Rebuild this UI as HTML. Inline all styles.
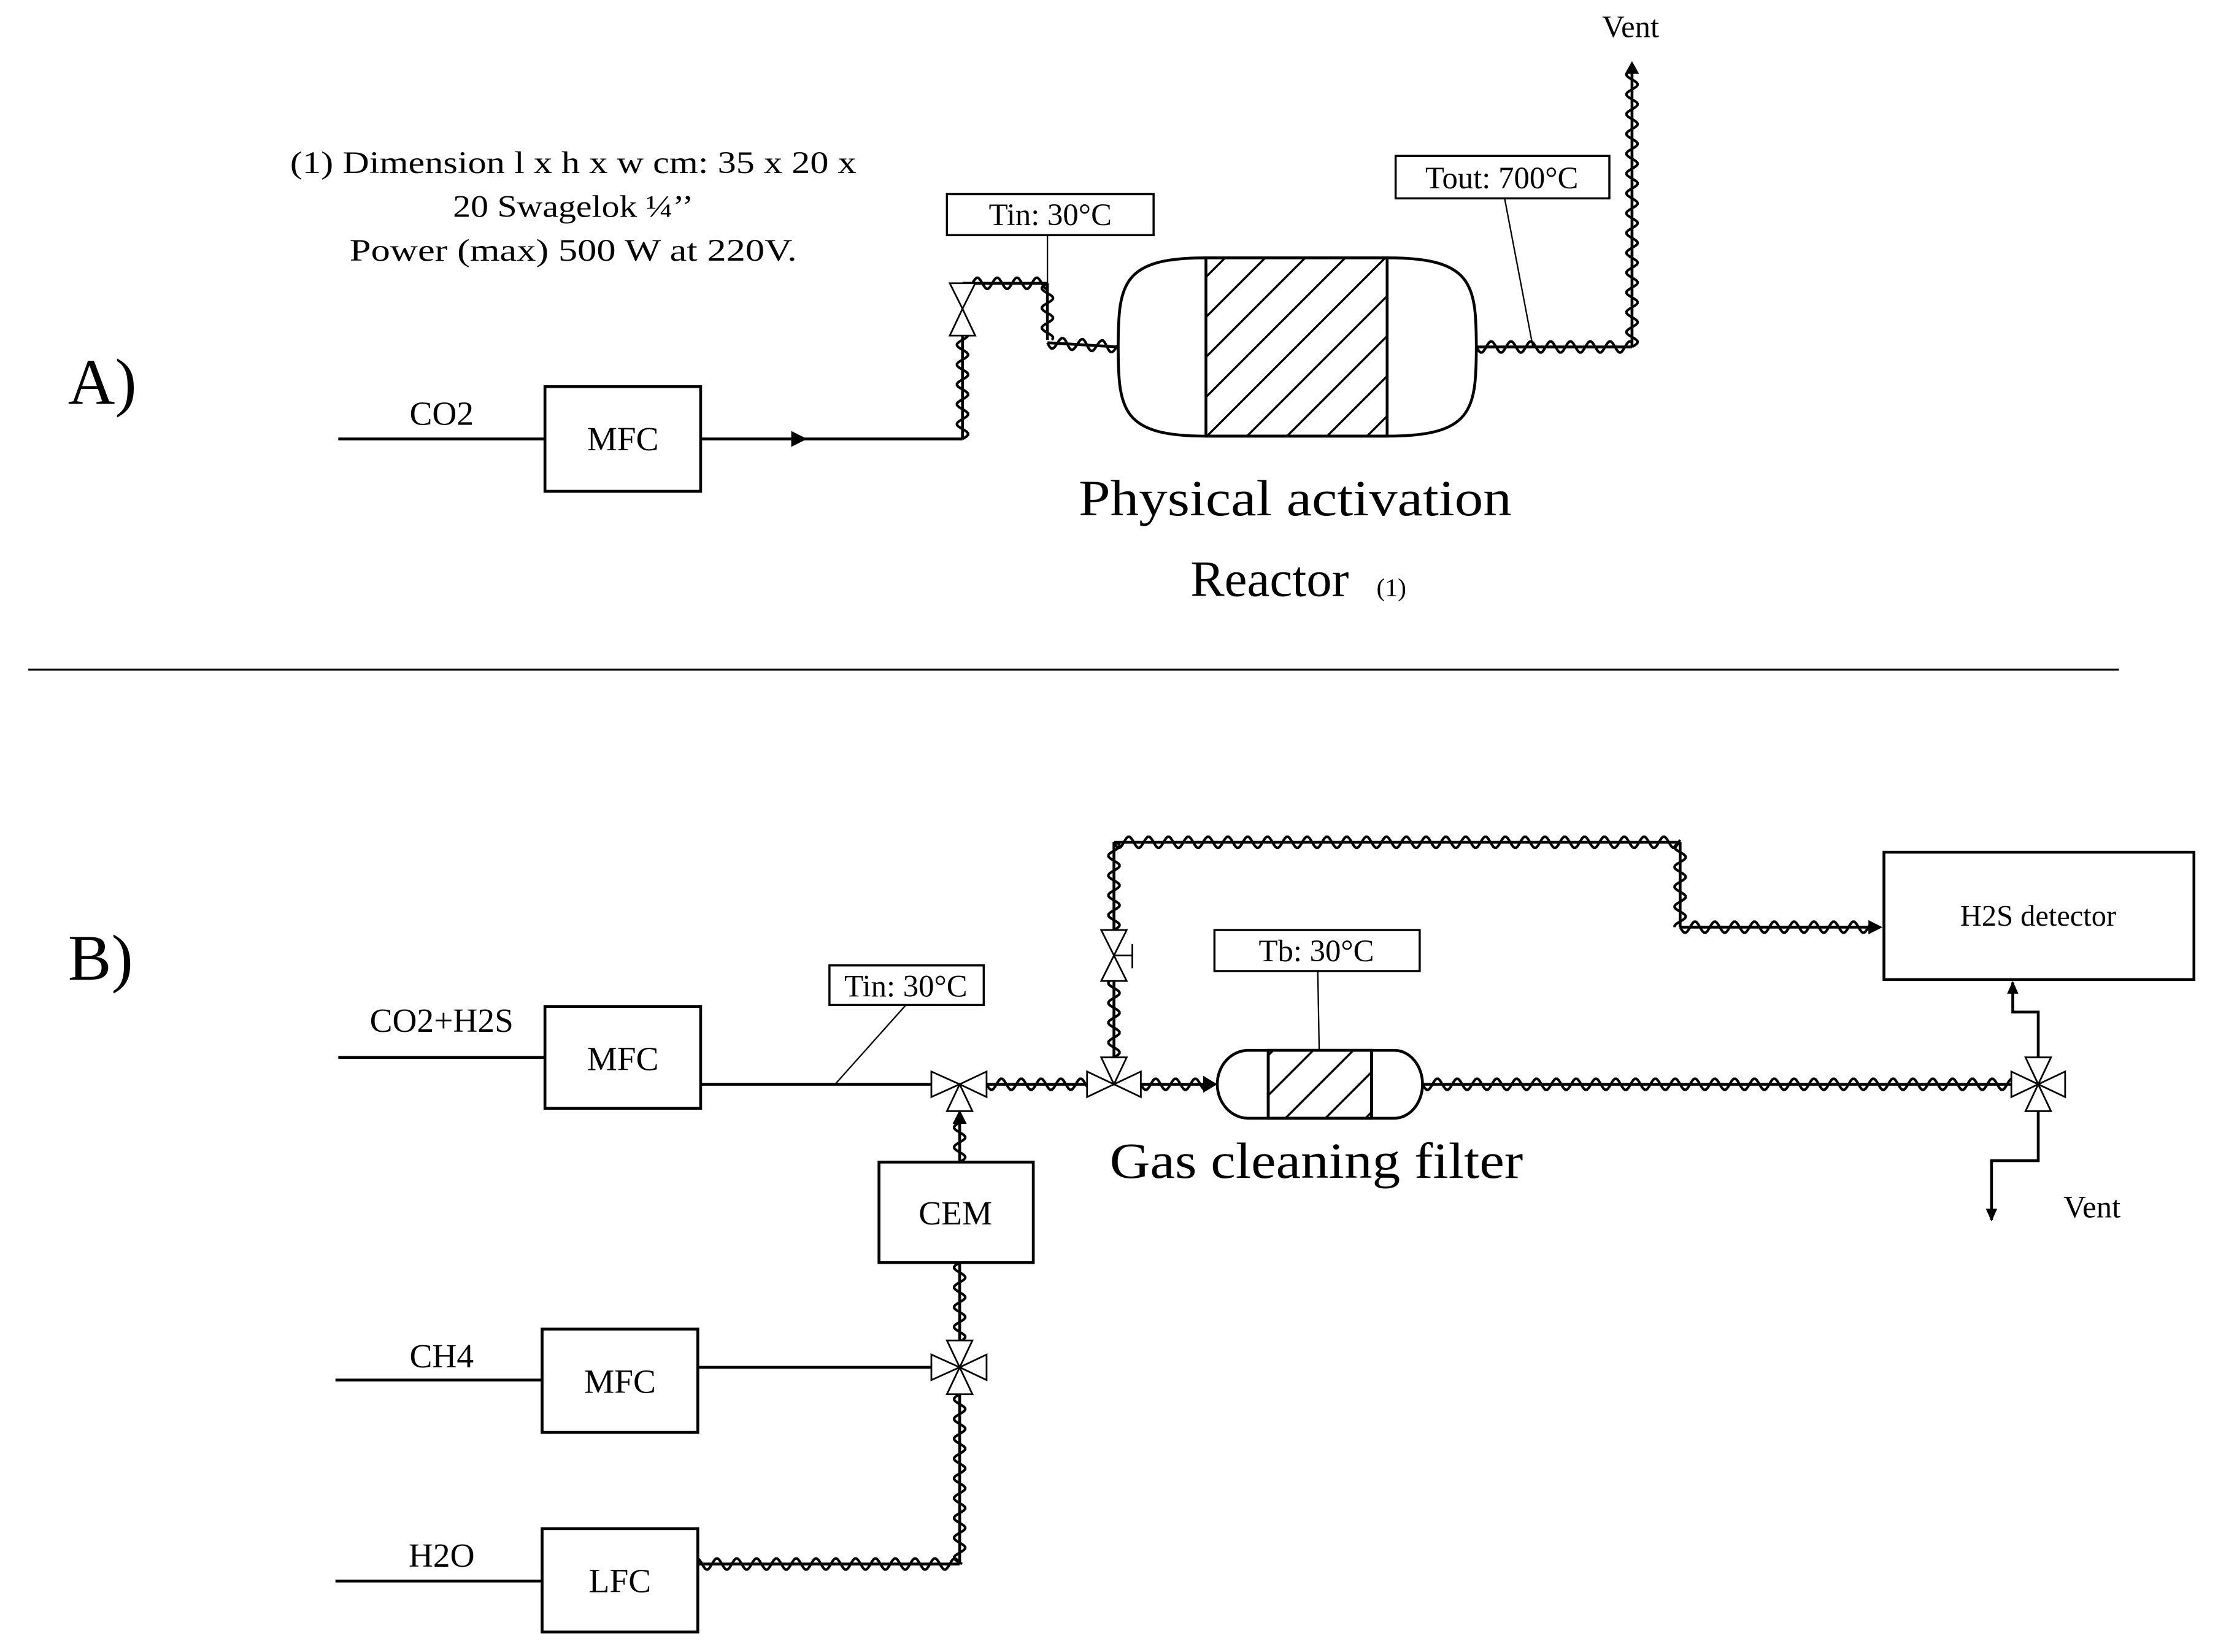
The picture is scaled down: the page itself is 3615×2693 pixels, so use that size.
<!DOCTYPE html>
<html><head><meta charset="utf-8">
<style>
html,body{margin:0;padding:0;background:#fff;}
svg{display:block;}
text{font-family:"Liberation Serif",serif;fill:#000;}
</style></head>
<body>
<svg id="s" width="3615" height="2693" viewBox="0 0 1567 1167" xmlns="http://www.w3.org/2000/svg">
<defs>
<pattern id="hatch" patternUnits="userSpaceOnUse" width="20" height="20" patternTransform="rotate(45)">
<rect width="20" height="20" fill="#fff"/>
<line x1="0" y1="0" x2="0" y2="20" stroke="#000" stroke-width="3"/>
</pattern>
<marker id="ar" markerWidth="10" markerHeight="10" refX="8" refY="5" orient="auto" markerUnits="userSpaceOnUse">
<path d="M0,1 L9,5 L0,9 Z" fill="#000"/>
</marker>
</defs>
<g fill="none" stroke="#000" stroke-width="2">
<line x1="239" y1="310" x2="385" y2="310"/>
<rect x="385" y="273" width="110" height="74"/>
<line x1="495" y1="310" x2="680" y2="310"/>
<path d="M560,306 L568,310 L560,314 Z" fill="#000"/>
<rect x="669" y="137" width="146" height="29" stroke-width="1.5"/>
<line x1="740" y1="166" x2="740" y2="200" stroke-width="1"/>
<rect x="852" y="182" width="128" height="126" fill="url(#hatch)"/>
<path d="M852,182 H980 C1040,182 1043,200 1043,245 C1043,290 1040,308 980,308 H852 C793,308 790,290 790,245 C790,200 793,182 852,182 Z"/>
<rect x="986" y="110" width="151" height="30" stroke-width="1.5"/>
<line x1="1063" y1="140" x2="1083" y2="245" stroke-width="1"/>
<line x1="20" y1="473" x2="1497" y2="473" stroke-width="1.5"/>

<line x1="239" y1="747" x2="385" y2="747"/>
<rect x="385" y="711" width="110" height="72"/>
<line x1="495" y1="766" x2="660" y2="766"/>
<rect x="586" y="682" width="109" height="28" stroke-width="1.5"/>
<line x1="640" y1="710" x2="590" y2="766" stroke-width="1"/>
<rect x="858" y="657" width="145" height="29" stroke-width="1.5"/>
<line x1="931" y1="686" x2="932" y2="742" stroke-width="1"/>
<rect x="896" y="742" width="73" height="48" fill="url(#hatch)"/>
<path d="M882,742 H985 A20,24 0 0 1 985,790 H882 A22,24 0 0 1 882,742 Z"/>
<line x1="896" y1="742" x2="896" y2="790"/>
<line x1="969" y1="742" x2="969" y2="790"/>
<rect x="1331" y="602" width="219" height="90"/>
<path d="M1440,748 V715 H1422 V694" marker-end="url(#ar)"/>
<path d="M1440,785 V820 H1407 V862" marker-end="url(#ar)"/>
<rect x="621" y="821" width="109" height="71"/>
<line x1="237" y1="975" x2="383" y2="975"/>
<rect x="383" y="939" width="110" height="73"/>
<line x1="493" y1="966" x2="660" y2="966"/>
<line x1="237" y1="1117" x2="383" y2="1117"/>
<rect x="383" y="1080" width="110" height="73"/>
<g id="waves" stroke-width="2"></g>
</g>
<g stroke="#000" stroke-width="1.2" fill="#fff">
<path d="M671,200 L689,200 L680,218 Z M671,237 L689,237 L680,218 Z"/>
<path d="M658,757 V775 L678,766 Z M697,757 V775 L678,766 Z M669,785 H687 L678,766 Z"/>
<path d="M768,757 V775 L787,766 Z M806,757 V775 L787,766 Z M778,747 H796 L787,766 Z"/>
<path d="M778,657 H796 L787,675 Z M778,693 H796 L787,675 Z"/>
<line x1="787" y1="675" x2="800" y2="675"/><line x1="800" y1="667" x2="800" y2="684"/>
<path d="M1421,757 V775 L1440,766 Z M1459,757 V775 L1440,766 Z M1431,747 H1449 L1440,766 Z M1431,785 H1449 L1440,766 Z"/>
<path d="M658,957 V975 L678,966 Z M697,957 V975 L678,966 Z M669,947 H687 L678,966 Z M669,985 H687 L678,966 Z"/>
</g>
<g fill="#000">
<path d="M1148,52 L1153,43 L1158,52 Z"/>
<path d="M850,760 L860,766 L850,772 Z"/>
<path d="M1320,650 L1330,655 L1320,660 Z"/>
<path d="M673,794 L678,784 L683,794 Z"/>
</g>

<text x="48" y="285" font-size="46" font-family="Liberation Sans">A)</text>
<text x="48" y="692" font-size="46" font-family="Liberation Sans">B)</text>
<g font-size="22" text-anchor="middle">
<text x="405" y="122" textLength="400" lengthAdjust="spacingAndGlyphs">(1) Dimension l x h x w cm: 35 x 20 x</text>
<text x="405" y="153" textLength="170" lengthAdjust="spacingAndGlyphs">20 Swagelok ¼’’</text>
<text x="405" y="184" textLength="316" lengthAdjust="spacingAndGlyphs">Power (max) 500 W at 220V.</text>
<text x="312" y="300" font-size="24">CO2</text>
<text x="440" y="318" font-size="24">MFC</text>
<text x="742" y="159">Tin: 30°C</text>
<text x="1061" y="133">Tout: 700°C</text>
<text x="1152" y="26">Vent</text>
<text x="312" y="729" font-size="24">CO2+H2S</text>
<text x="440" y="756" font-size="24">MFC</text>
<text x="640" y="704">Tin: 30°C</text>
<text x="930" y="679">Tb: 30°C</text>
<text x="1440" y="654" font-family="Liberation Sans" font-size="21">H2S detector</text>
<text x="1478" y="860">Vent</text>
<text x="675" y="865" font-size="24">CEM</text>
<text x="312" y="966" font-size="24">CH4</text>
<text x="438" y="984" font-size="24">MFC</text>
<text x="312" y="1107" font-size="24">H2O</text>
<text x="438" y="1125" font-size="24">LFC</text>
</g>
<text x="915" y="364" font-size="36" text-anchor="middle" textLength="306" lengthAdjust="spacingAndGlyphs">Physical activation</text>
<text x="897" y="421" font-size="36" text-anchor="middle">Reactor</text>
<text x="983" y="421" font-size="18" text-anchor="middle">(1)</text>
<text x="930" y="832" font-size="36" text-anchor="middle" textLength="292" lengthAdjust="spacingAndGlyphs">Gas cleaning filter</text>
</svg>
<script>
(function(){
var g=document.getElementById('waves');var ns='http://www.w3.org/2000/svg';
function w(x1,y1,x2,y2){
 var dx=x2-x1,dy=y2-y1,L=Math.sqrt(dx*dx+dy*dy),ux=dx/L,uy=dy/L,nx=-uy,ny=ux;
 var l=document.createElementNS(ns,'line');
 l.setAttribute('x1',x1);l.setAttribute('y1',y1);l.setAttribute('x2',x2);l.setAttribute('y2',y2);g.appendChild(l);
 var d='',P=14,A=4;
 for(var t=0;t<=L;t+=1){var o=A*Math.sin(2*Math.PI*t/P);var x=x1+ux*t+nx*o,y=y1+uy*t+ny*o;d+=(t?'L':'M')+x.toFixed(1)+','+y.toFixed(1);}
 var p=document.createElementNS(ns,'path');p.setAttribute('d',d);p.setAttribute('fill','none');p.setAttribute('stroke-width','1.8');g.appendChild(p);
}
w(680,310,680,237);w(680,200,740,200);w(740,200,740,240);w(740,242,790,245);
w(1043,245,1153,245);w(1153,245,1153,52);
w(697,766,768,766);w(806,766,852,766);w(1005,766,1421,766);
w(787,747,787,693);w(787,657,787,595);w(787,595,1187,595);w(1187,595,1187,655);w(1187,655,1322,655);
w(678,821,678,793);w(678,892,678,947);w(678,985,678,1105);w(678,1105,493,1105);
})();
</script>
</body></html>
